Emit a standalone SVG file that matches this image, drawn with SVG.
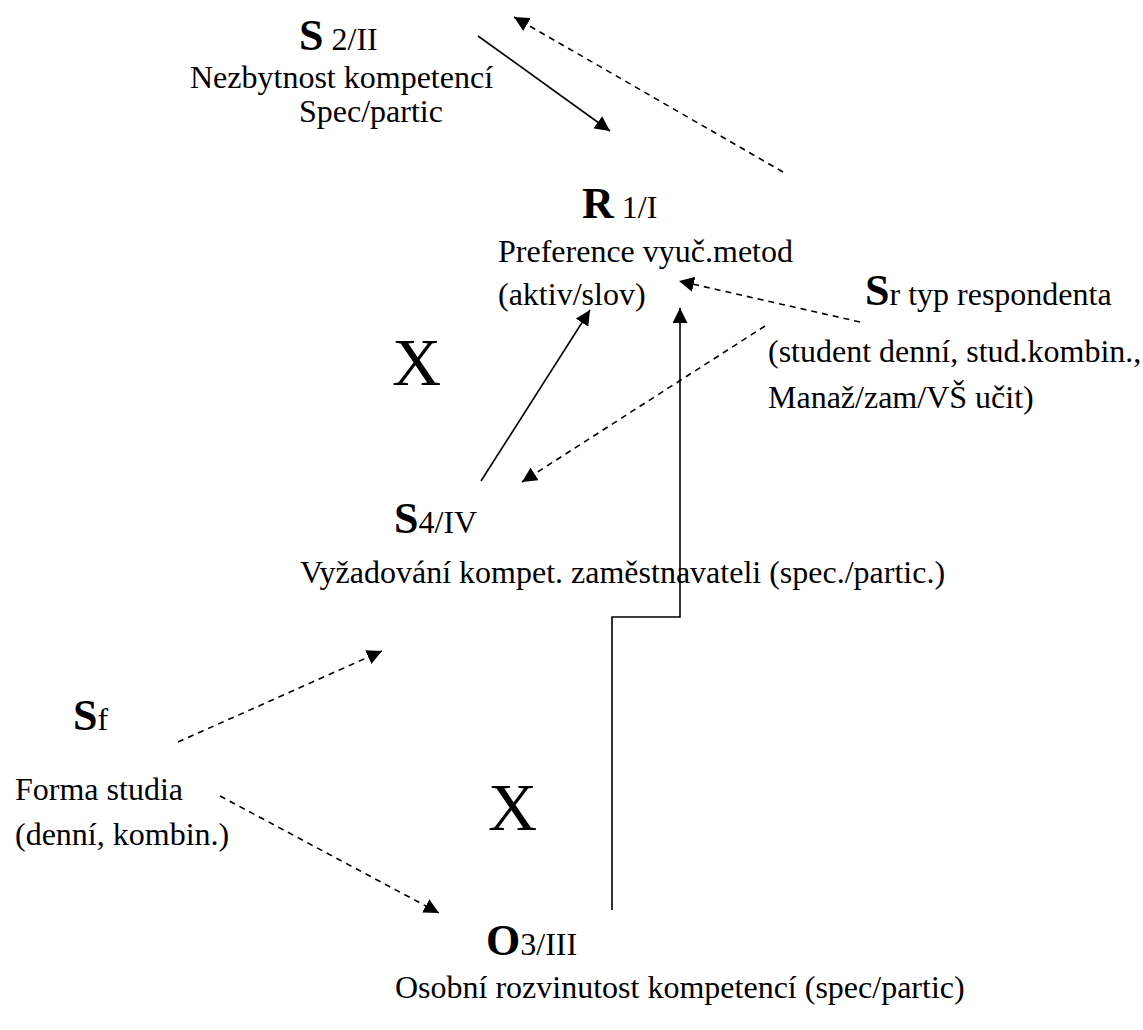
<svg xmlns="http://www.w3.org/2000/svg" width="1143" height="1030" viewBox="0 0 1143 1030">
<style>
text{font-family:"Liberation Serif","Times New Roman",serif;fill:#000}
.t{font-size:32px}
.big{font-size:44px;font-weight:bold}
.x{font-size:68px}
.ln{stroke:#000;stroke-width:1.6;fill:none}
.d{stroke-dasharray:6 5}
</style>
<defs>
<marker id="ah" viewBox="0 0 10 10" refX="10" refY="5" markerWidth="15" markerHeight="15" markerUnits="userSpaceOnUse" orient="auto">
<path d="M0,0 L10,5 L0,10 z" fill="#000"/>
</marker>
</defs>
<rect width="1143" height="1030" fill="#fff"/>
<g id="connectors">
<line class="ln" x1="478" y1="36" x2="610" y2="131" marker-end="url(#ah)"/>
<line class="ln d" x1="783" y1="172" x2="514" y2="17" marker-end="url(#ah)"/>
<line class="ln d" x1="860" y1="322" x2="679" y2="281" marker-end="url(#ah)"/>
<line class="ln" x1="481" y1="481" x2="590" y2="310" marker-end="url(#ah)"/>
<polyline class="ln" points="612,910 612,617 680,617 680,308" marker-end="url(#ah)"/>
<line class="ln d" x1="765" y1="326" x2="522" y2="482" marker-end="url(#ah)"/>
<line class="ln d" x1="178" y1="742" x2="382" y2="651" marker-end="url(#ah)"/>
<line class="ln d" x1="220" y1="796" x2="439" y2="913" marker-end="url(#ah)"/>
</g>
<g id="S2">
<text x="299" y="50"><tspan class="big">S</tspan><tspan class="t"> 2/II</tspan></text>
<text class="t" x="190" y="88">Nezbytnost kompetencí</text>
<text class="t" x="299" y="122">Spec/partic</text>
</g>
<g id="R1">
<text x="582" y="218"><tspan class="big">R</tspan><tspan class="t"> 1/I</tspan></text>
<text class="t" x="498" y="262">Preference vyuč.metod</text>
<text class="t" x="498" y="305">(aktiv/slov)</text>
</g>
<g id="Sr">
<text x="865" y="305"><tspan class="big">S</tspan><tspan class="t">r typ respondenta</tspan></text>
<text class="t" x="768" y="362">(student denní, stud.kombin.,</text>
<text class="t" x="768" y="408">Manaž/zam/VŠ učit)</text>
</g>
<g id="X1"><text class="x" x="392" y="385">X</text></g>
<g id="S4">
<text x="394" y="533"><tspan class="big">S</tspan><tspan class="t">4/IV</tspan></text>
<text class="t" x="300" y="583">Vyžadování kompet. zaměstnavateli (spec./partic.)</text>
</g>
<g id="Sf">
<text x="73" y="730"><tspan class="big">S</tspan><tspan class="t">f</tspan></text>
<text class="t" x="15" y="800">Forma studia</text>
<text class="t" x="15" y="845">(denní, kombin.)</text>
</g>
<g id="X2"><text class="x" x="488" y="830">X</text></g>
<g id="O3">
<text x="486" y="955"><tspan class="big">O</tspan><tspan class="t">3/III</tspan></text>
<text class="t" x="395" y="998">Osobní rozvinutost kompetencí (spec/partic)</text>
</g>
</svg>
